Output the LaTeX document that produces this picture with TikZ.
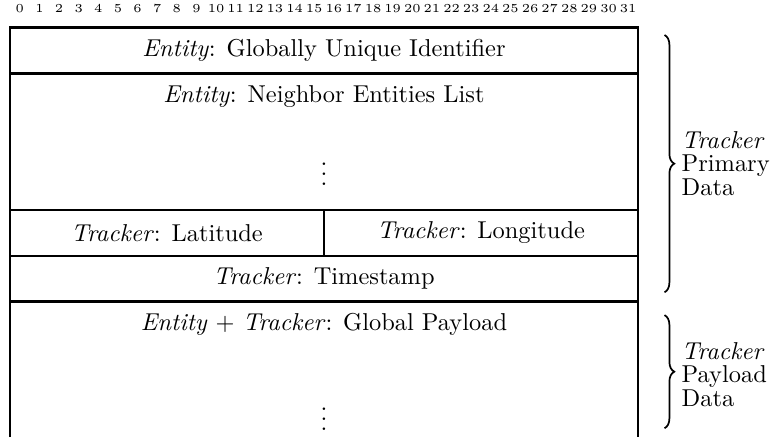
\documentclass[tikz,border=0pt]{standalone}
\usepackage{amsmath}
\usepackage{amssymb}
\usepackage{xcolor}
\usepackage{tikz}
\usetikzlibrary{decorations.pathreplacing}

\tikzset{
    field/.style={line width=1pt},
    databrace/.style={decorate, decoration={brace, amplitude=4pt}, line width=0.7pt},
    bitnum/.style={font=\tiny, inner sep=0pt}
}

\begin{document}
\begin{tikzpicture}[x=8.04pt, y=-18.69pt]
                \useasboundingbox (-0.51, -0.607) rectangle (38.98, 8.976);

                \foreach \b in {0,...,31}
                    \node[bitnum] (B\b) at (\b+0.5, -0.43){\b};

                \node (GUID) at (16, 0.5){\textit{Entity}: Globally Unique Identifier};
                \node (NBR) at (16, 1.5){\textit{Entity}: Neighbor Entities List};
                \node (NBRDOTS) at (16, 3.05){$\vdots$};
                \node (LAT) at (8, 4.5){\textit{Tracker}: Latitude};
                \node (LON) at (24, 4.5){\textit{Tracker}: Longitude};
                \node (TS) at (16, 5.5){\textit{Tracker}: Timestamp};
                \node (PAY) at (16, 6.5){\textit{Entity} + \textit{Tracker}: Global Payload};
                \node (PAYDOTS) at (16, 8.42){$\vdots$};

                \draw[field] (0, 8.976) -- (0, 0) -- (32, 0) -- (32, 8.976);
                \draw[field] (0, 1) -- (32, 1);
                \draw[field] (0, 4) -- (32, 4);
                \draw[field] (0, 5) -- (32, 5);
                \draw[field] (0, 6) -- (32, 6);
                \draw[field] (16, 4) -- (16, 5);

                \coordinate (P1) at (33.35, 0.16);
                \coordinate (P2) at (33.35, 5.8);
                \coordinate (Q1) at (33.35, 6.3);
                \coordinate (Q2) at (33.35, 8.78);

                \draw[databrace] (P1) -- (P2);
                \draw[databrace] (Q1) -- (Q2);

                \node[right, align=left, inner sep=0pt] (PRIM) at (34.2, 2.98){\textit{Tracker}\\[-2.4pt]Primary\\[-2.4pt]Data};
                \node[right, align=left, inner sep=0pt] (PLOAD) at (34.2, 7.6){\textit{Tracker}\\[-2.4pt]Payload\\[-2.4pt]Data};
            \end{tikzpicture}
\end{document}
